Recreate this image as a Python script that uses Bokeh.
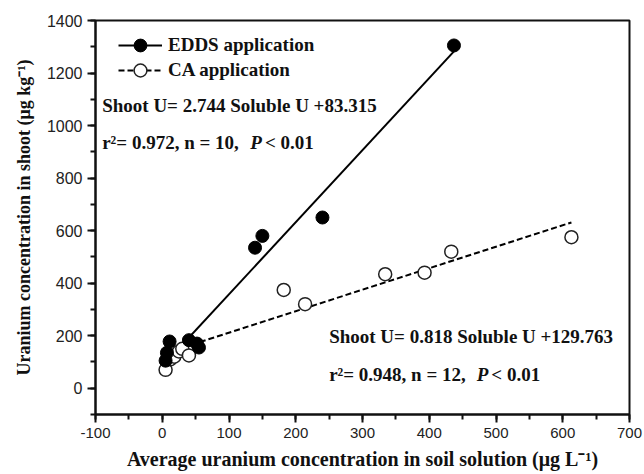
from bokeh.plotting import figure
from bokeh.models import Label, Legend, LegendItem, Range1d, FixedTicker
from bokeh.embed import file_html
from bokeh.resources import INLINE

# ---- data ----
edds_x = [5, 7, 11, 40, 52, 55, 139, 150, 240, 437]
edds_y = [105, 135, 178, 183, 170, 155, 535, 580, 650, 1305]
ca_x = [5, 12, 18, 25, 30, 40, 182, 214, 334, 393, 433, 613]
ca_y = [70, 110, 120, 140, 150, 125, 374, 320, 434, 440, 520, 575]
edds_fit = (2.744, 83.315)   # slope, intercept
ca_fit = (0.818, 129.763)
x_ticks = list(range(-100, 701, 100))
y_ticks = list(range(0, 1401, 200))
x_minor = list(range(-100, 701, 50))
y_minor = list(range(-100, 1401, 100))

SERIF = "Liberation Serif"
SANS = "Liberation Sans"

p = figure(width=644, height=474, output_backend="svg", toolbar_location=None,
           x_range=Range1d(-100, 700), y_range=Range1d(-100, 1400),
           min_border_left=95, min_border_right=15, min_border_top=20, min_border_bottom=60)
p.background_fill_color = "white"
p.border_fill_color = "white"
p.outline_line_color = "#111111"
p.outline_line_width = 2
p.grid.visible = False

# regression lines over data range
ex = [min(edds_x), max(edds_x)]
ey = [edds_fit[0] * v + edds_fit[1] for v in ex]
cx = [min(ca_x), max(ca_x)]
cy = [ca_fit[0] * v + ca_fit[1] for v in cx]

l_edds = p.line(ex, ey, line_color="black", line_width=2)
l_ca = p.line(cx, cy, line_color="black", line_width=2, line_dash="6 3")

s_ca = p.scatter(ca_x, ca_y, marker="circle", size=13, fill_color="white",
                 line_color="#222222", line_width=1.5)
s_edds = p.scatter(edds_x, edds_y, marker="circle", size=13, fill_color="black",
                   line_color="black", line_width=1)

# axes
for ax in (p.xaxis[0], p.yaxis[0]):
    ax.axis_line_width = 2
    ax.axis_line_color = "#111111"
    ax.major_tick_line_width = 2
    ax.minor_tick_line_width = 2
    ax.major_tick_line_color = "#111111"
    ax.minor_tick_line_color = "#111111"
    ax.major_tick_in = 0
    ax.major_tick_out = 8
    ax.minor_tick_in = 0
    ax.minor_tick_out = 5
    ax.major_label_text_font = SANS
    ax.major_label_text_color = "#222222"
    ax.axis_label_text_font = SERIF
    ax.axis_label_text_font_style = "bold"
    ax.axis_label_text_color = "#111111"

p.xaxis[0].major_label_text_font_size = "15px"
p.yaxis[0].major_label_text_font_size = "16px"
p.xaxis[0].axis_label_text_font_size = "20px"
p.yaxis[0].axis_label_text_font_size = "18px"
p.xaxis[0].ticker = FixedTicker(ticks=x_ticks, minor_ticks=x_minor)
p.yaxis[0].ticker = FixedTicker(ticks=y_ticks, minor_ticks=y_minor)
p.xaxis[0].major_label_overrides = {t: str(t) for t in x_ticks}
p.yaxis[0].major_label_overrides = {t: str(t) for t in y_ticks}
p.xaxis[0].major_label_standoff = 5
p.yaxis[0].major_label_standoff = 5
p.xaxis[0].axis_label_standoff = 7
p.yaxis[0].axis_label_standoff = 10
p.xaxis[0].axis_label = "Average uranium concentration in soil solution (\u03bcg L\u207b\u00b9)"
p.yaxis[0].axis_label = "Uranium concentration in shoot (\u03bcg kg\u207b\u00b9)"

# legend: one legend per entry so the rows can sit close together
def make_legend(label, renderers, y):
    lg = Legend(items=[LegendItem(label=label, renderers=renderers)], location=(23, y))
    lg.glyph_width = 44
    lg.glyph_height = 32
    lg.label_height = 32
    lg.padding = 0
    lg.margin = 0
    lg.label_standoff = 6
    lg.label_text_font = SERIF
    lg.label_text_font_style = "bold"
    lg.label_text_font_size = "19px"
    lg.label_text_color = "#111111"
    lg.border_line_alpha = 0
    lg.background_fill_alpha = 0
    p.add_layout(lg, "center")

make_legend("EDDS application", [l_edds, s_edds], 353)
make_legend("CA application", [l_ca, s_ca], 328)

def lab(x, y, text, style="bold"):
    p.add_layout(Label(x=x, y=y, text=text, text_font=SERIF, text_font_style=style,
                       text_font_size="19px", text_color="#111111", text_baseline="middle"))

lab(-90, 1077, "Shoot U= 2.744 Soluble U +83.315")
lab(-90, 935, "r\u00b2= 0.972, n = 10,")
lab(132, 935, "P", "bold italic")
lab(154, 935, "< 0.01")

lab(250, 197, "Shoot U= 0.818 Soluble U +129.763")
lab(250, 52, "r\u00b2= 0.948, n = 12,")
lab(471, 52, "P", "bold italic")
lab(493, 52, "< 0.01")

open("out.html", "w").write(file_html(p, INLINE))
